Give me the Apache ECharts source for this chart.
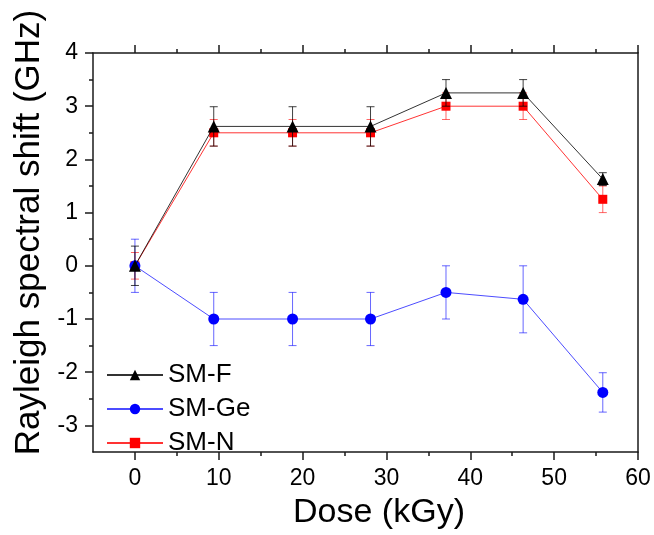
<!DOCTYPE html>
<html>
<head>
<meta charset="utf-8">
<script src="https://cdn.jsdelivr.net/npm/echarts@6/dist/echarts.min.js"></script>
<style>
  html, body { margin: 0; padding: 0; background: #fff; }
  #chart { width: 654px; height: 535px; }
</style>
</head>
<body>
<div id="chart"></div>
<script>
// Irradiation dose (kGy)
const dose = [0, 9.4, 18.8, 28.1, 37.1, 46.3, 55.8];

// Rayleigh spectral shift (GHz) and error half-widths per fibre type
const smF = [0, 2.62, 2.62, 2.62, 3.25, 3.25, 1.63];
const smFErr = [0.37, 0.37, 0.37, 0.37, 0.25, 0.25, 0.12];
const smGe = [0, -1, -1, -1, -0.5, -0.63, -2.38];
const smGeErr = [0.5, 0.5, 0.5, 0.5, 0.5, 0.63, 0.37];
const smN = [0, 2.5, 2.5, 2.5, 3.0, 3.0, 1.25];
const smNErr = [0.25, 0.25, 0.25, 0.25, 0.25, 0.25, 0.25];

// Axis ticks
const xMajor = [0, 10, 20, 30, 40, 50, 60];
const xMinor = [5, 15, 25, 35, 45, 55];
const yMajor = [-3, -2, -1, 0, 1, 2, 3, 4];
const yMinor = [-2.5, -1.5, -0.5, 0.5, 1.5, 2.5, 3.5];

const FONT = 'Arial, "Liberation Sans", sans-serif';
const AXIS_COLOR = '#1a1a1a';

const chart = echarts.init(document.getElementById('chart'));

function pairs(ys) {
  return dose.map((x, i) => [x, ys[i]]);
}
function ranges(ys, errs) {
  return dose.map((x, i) => [x, ys[i] - errs[i], ys[i] + errs[i]]);
}

function errorBars(name, ys, errs, color, z) {
  return {
    name: name + ' err',
    type: 'custom',
    z: z,
    silent: true,
    encode: { x: 0, y: [1, 2] },
    data: ranges(ys, errs),
    renderItem: function (params, api) {
      const x = api.value(0);
      const lo = api.coord([x, api.value(1)]);
      const hi = api.coord([x, api.value(2)]);
      const hw = 4;
      const style = { stroke: color, lineWidth: 1 };
      return {
        type: 'group',
        children: [
          { type: 'line', shape: { x1: lo[0], y1: lo[1], x2: hi[0], y2: hi[1] }, style: style },
          { type: 'line', shape: { x1: lo[0] - hw, y1: lo[1], x2: lo[0] + hw, y2: lo[1] }, style: style },
          { type: 'line', shape: { x1: hi[0] - hw, y1: hi[1], x2: hi[0] + hw, y2: hi[1] }, style: style }
        ]
      };
    }
  };
}

function lineSeries(name, ys, symbol, size, markColor, lineColor, z) {
  return {
    name: name,
    type: 'line',
    z: z,
    data: pairs(ys),
    symbol: symbol,
    symbolSize: size,
    showAllSymbol: true,
    itemStyle: { color: markColor },
    lineStyle: { color: lineColor, width: 1 },
    emphasis: { disabled: true },
    animation: false
  };
}

function valueAxisBase(min, max, position) {
  return {
    type: 'value',
    min: min,
    max: max,
    position: position,
    splitLine: { show: false },
    axisLine: { show: false, onZero: false },
    axisLabel: { show: false },
    axisTick: { show: false }
  };
}

function tickAxis(min, max, position, values, length) {
  const a = valueAxisBase(min, max, position);
  a.axisTick = { show: true, length: length, customValues: values, lineStyle: { color: AXIS_COLOR, width: 1.5 } };
  return a;
}

const xBottom = tickAxis(-5, 60, 'bottom', xMajor, 8);
xBottom.axisLine = { show: true, onZero: false, lineStyle: { color: AXIS_COLOR, width: 1.5 } };
xBottom.axisLabel = { show: true, customValues: xMajor, fontSize: 23, color: '#000', fontFamily: FONT, margin: 15 };
xBottom.name = 'Dose (kGy)';
xBottom.nameLocation = 'middle';
xBottom.nameGap = 44;
xBottom.nameTextStyle = { fontSize: 34, color: '#000', fontFamily: FONT, padding: [0, 0, 0, 27] };

const xTop = tickAxis(-5, 60, 'top', xMajor, 8);
xTop.axisLine = { show: true, onZero: false, lineStyle: { color: AXIS_COLOR, width: 1.5 } };

const yLeft = tickAxis(-3.5, 4, 'left', yMajor, 8);
yLeft.axisLine = { show: true, onZero: false, lineStyle: { color: AXIS_COLOR, width: 1.5 } };
yLeft.axisLabel = { show: true, customValues: yMajor, fontSize: 23, color: '#000', fontFamily: FONT, margin: 15 };
yLeft.name = 'Rayleigh spectral shift (GHz)';
yLeft.nameLocation = 'middle';
yLeft.nameGap = 46;
yLeft.nameTextStyle = { fontSize: 35, color: '#000', fontFamily: FONT, padding: [0, 0, 0, 40] };

const yRight = valueAxisBase(-3.5, 4, 'right');
yRight.axisLine = { show: true, onZero: false, lineStyle: { color: AXIS_COLOR, width: 1.5 } };

const option = {
  backgroundColor: '#fff',
  animation: false,
  grid: { left: 93, top: 53, right: 16, bottom: 82, containLabel: false },
  xAxis: [
    xBottom,
    tickAxis(-5, 60, 'bottom', xMinor, 4),
    xTop,
    tickAxis(-5, 60, 'top', xMinor, 4)
  ],
  yAxis: [
    yLeft,
    tickAxis(-3.5, 4, 'left', yMinor, 4),
    yRight
  ],
  legend: {
    data: ['SM-F', 'SM-Ge', 'SM-N'],
    orient: 'vertical',
    left: 101,
    top: 357,
    itemWidth: 56,
    itemHeight: 13,
    itemGap: 8,
    textStyle: { fontSize: 26, color: '#000', fontFamily: FONT },
    selectedMode: false
  },
  series: [
    errorBars('SM-N', smN, smNErr, 'rgba(255,0,0,0.6)', 2),
    lineSeries('SM-N', smN, 'rect', 9, '#ff0000', 'rgba(255,0,0,0.8)', 3),
    errorBars('SM-Ge', smGe, smGeErr, 'rgba(0,0,255,0.6)', 4),
    lineSeries('SM-Ge', smGe, 'circle', 11, '#0000ff', 'rgba(0,0,255,0.7)', 5),
    errorBars('SM-F', smF, smFErr, 'rgba(0,0,0,0.75)', 6),
    lineSeries('SM-F', smF, 'triangle', 12, '#000000', 'rgba(0,0,0,0.8)', 7)
  ]
};

chart.setOption(option);
</script>
</body>
</html>
